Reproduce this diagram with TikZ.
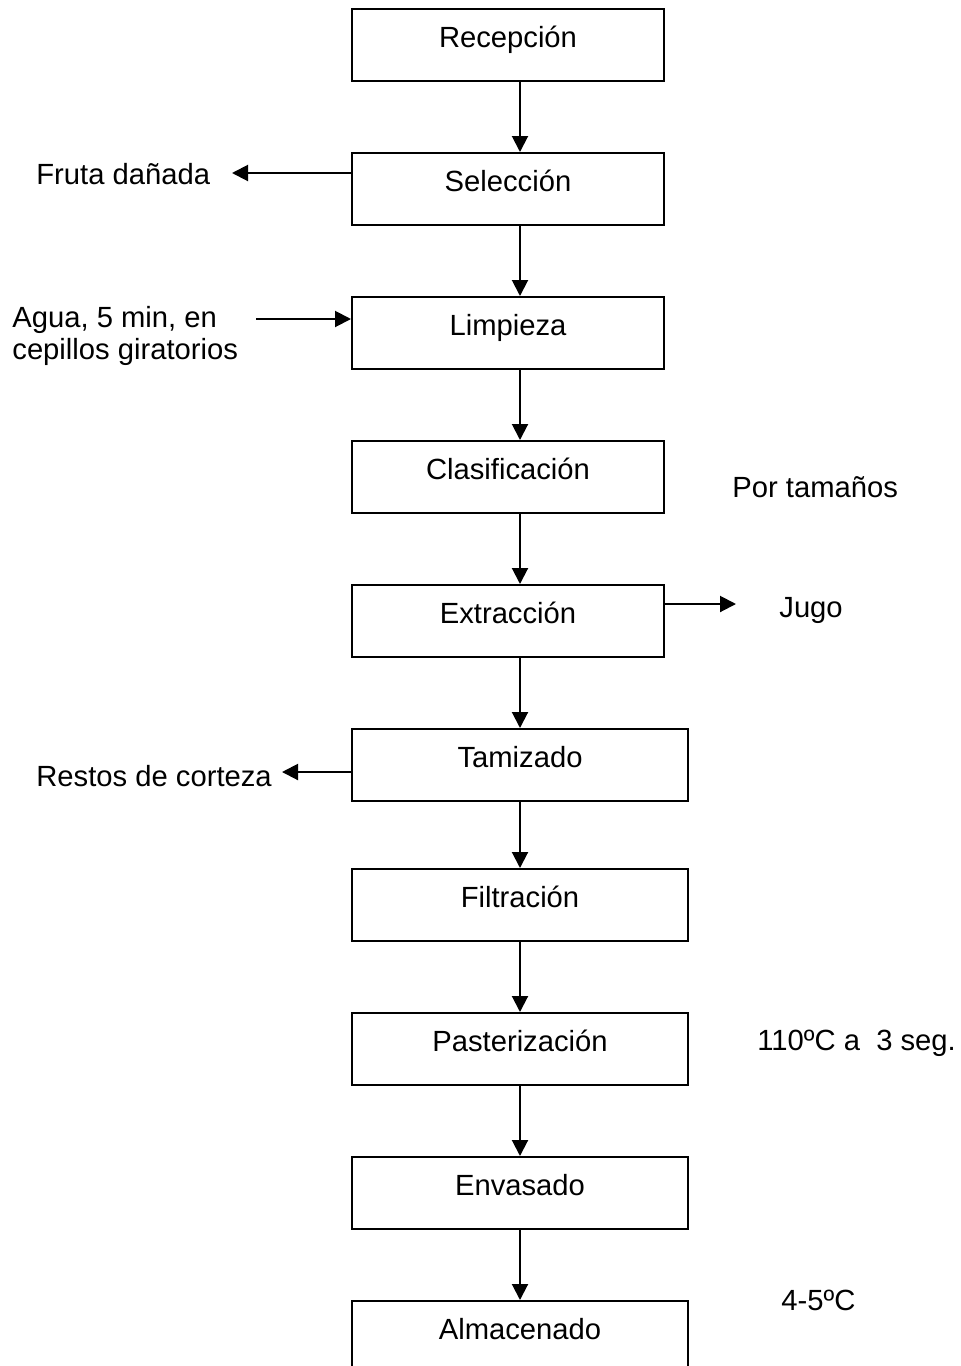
\documentclass[tikz,border=0pt]{standalone}
\usepackage{fontspec}
\setmainfont{Liberation Sans}
\usetikzlibrary{arrows.meta}
\begin{document}
\begin{tikzpicture}[x=0.5pt,y=-0.5pt,
  every node/.style={font=\fontsize{14.6}{16}\selectfont},
  stepbox/.style={draw,line width=1pt,anchor=north,inner xsep=0pt,inner ysep=0pt,
    text height=19.2pt,text depth=16.8pt,minimum height=36pt},
  narrowbox/.style={stepbox,minimum width=156pt},
  widebox/.style={stepbox,minimum width=168pt},
  lbl/.style={inner sep=0pt,anchor=base west,align=left},
  arr/.style={line width=1pt,-{Triangle[length=8pt,width=8pt]}}]
\clip (0,0) rectangle (960,1366);
\fill[white] (0,0) rectangle (960,1366);
\node[narrowbox] (rec) at (508,8) {Recepción};
\node[narrowbox] (sel) at (508,152) {Selección};
\node[narrowbox] (lim) at (508,296) {Limpieza};
\node[narrowbox] (cla) at (508,440) {Clasificación};
\node[narrowbox] (ext) at (508,584) {Extracción};
\node[widebox] (tam) at (520,728) {Tamizado};
\node[widebox] (fil) at (520,868) {Filtración};
\node[widebox] (pas) at (520,1012) {Pasterización};
\node[widebox] (env) at (520,1156) {Envasado};
\node[widebox] (alm) at (520,1300) {Almacenado};
\draw[arr] ([xshift=6pt]rec.south) -- ([xshift=6pt]sel.north);
\draw[arr] ([xshift=6pt]sel.south) -- ([xshift=6pt]lim.north);
\draw[arr] ([xshift=6pt]lim.south) -- ([xshift=6pt]cla.north);
\draw[arr] ([xshift=6pt]cla.south) -- ([xshift=6pt]ext.north);
\draw[arr] ([xshift=6pt]ext.south) -- (tam.north);
\draw[arr] (tam.south) -- (fil.north);
\draw[arr] (fil.south) -- (pas.north);
\draw[arr] (pas.south) -- (env.north);
\draw[arr] (env.south) -- (alm.north);
\node[lbl] (fd) at (36,184) {Fruta dañada};
\node[lbl] (agua) at (12,359) {Agua, 5 min, en\\[0pt]cepillos giratorios};
\node[lbl] (por) at (732,497) {Por tamaños};
\node[lbl] (jugo) at (779,617) {Jugo};
\node[lbl] (restos) at (36,786) {Restos de corteza};
\node[lbl] (temp) at (757,1050) {110ºC a\ \ 3 seg.};
\node[lbl] (frio) at (781,1310) {4-5ºC};
\coordinate (fdtip) at (232,173);
\coordinate (aguast) at (256,319);
\coordinate (jugotip) at (736,604);
\coordinate (restip) at (282,772);
\draw[arr] (sel.west |- fdtip) -- (fdtip);
\draw[arr] (aguast) -- (lim.west |- aguast);
\draw[arr] (ext.east |- jugotip) -- (jugotip);
\draw[arr] (tam.west |- restip) -- (restip);
\end{tikzpicture}
\end{document}
